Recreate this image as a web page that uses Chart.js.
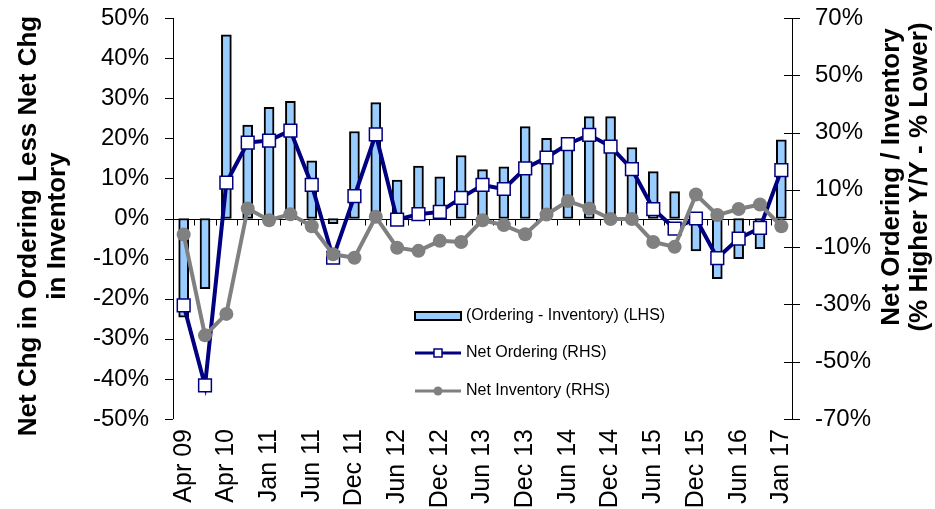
<!DOCTYPE html>
<html>
<head>
<meta charset="utf-8">
<script src="https://cdn.jsdelivr.net/npm/chart.js@4.4.1/dist/chart.umd.min.js"></script>
<style>
  html, body { margin: 0; padding: 0; background: #ffffff; overflow: hidden; }
  #wrap { position: relative; width: 935px; height: 509px; }
</style>
</head>
<body>
<div id="wrap"><canvas id="c" width="935" height="509"></canvas></div>
<script>
const categories = ['Apr 09','Oct 09','Apr 10','Aug 10','Jan 11','Mar 11','Jun 11','Sep 11','Dec 11','Mar 12','Jun 12','Sep 12','Dec 12','Mar 13','Jun 13','Sep 13','Dec 13','Mar 14','Jun 14','Sep 14','Dec 14','Mar 15','Jun 15','Sep 15','Dec 15','Mar 16','Jun 16','Sep 16','Jan 17'];
const diffLHS = [-24.6, -17.5, 45.8, 23.3, 27.7, 29.2, 14.4, -1.3, 21.7, 28.9, 9.6, 13.1, 10.4, 15.7, 12.2, 12.9, 22.9, 20.0, 19.9, 25.4, 25.4, 17.7, 11.7, 6.7, -8.1, -15.0, -10.0, -7.5, 19.6];
const netOrdering = [-30.3, -58.3, 12.5, 26.5, 27.2, 30.7, 11.7, -13.7, 7.8, 29.4, -0.4, 1.5, 2.3, 7.2, 11.7, 10.3, 17.5, 21.3, 26.0, 29.2, 25.1, 17.2, 3.3, -3.5, 0.0, -13.8, -7.0, -3.3, 16.9];
const netInventory = [-5.6, -40.8, -33.3, 3.5, -0.6, 1.5, -2.7, -12.5, -13.7, 0.6, -10.2, -11.3, -7.8, -8.2, -0.6, -2.3, -5.5, 1.4, 6.1, 3.5, -0.2, -0.2, -8.2, -9.9, 8.4, 1.2, 3.3, 4.9, -2.7];
const leftTicks = {min: -50, max: 50, step: 10};
const rightTicks = {min: -70, max: 70, step: 20};
const leftTitle = ['Net Chg in Ordering Less Net Chg', 'in Inventory'];
const rightTitle = ['Net Ordering / Inventory', '(% Higher Y/Y - % Lower)'];
const seriesLabels = ['(Ordering - Inventory) (LHS)', 'Net Ordering (RHS)', 'Net Inventory (RHS)'];

const FONT = '"Liberation Sans", Arial, sans-serif';

const axesPlugin = {
  id: 'axesPlugin',
  beforeDatasetsDraw(chart) {
    const {ctx, chartArea: a, scales} = chart;
    const y = scales.y, y1 = scales.y1, x = scales.x;
    ctx.save();
    ctx.strokeStyle = '#000';
    ctx.lineWidth = 1;
    ctx.beginPath();
    ctx.moveTo(Math.round(a.left) + 0.5, a.top);
    ctx.lineTo(Math.round(a.left) + 0.5, a.bottom);
    y.ticks.forEach(t => {
      const py = Math.round(y.getPixelForValue(t.value)) + 0.5;
      ctx.moveTo(a.left - 8, py);
      ctx.lineTo(a.left, py);
    });
    ctx.moveTo(Math.round(a.right) + 0.5, a.top);
    ctx.lineTo(Math.round(a.right) + 0.5, a.bottom);
    y1.ticks.forEach(t => {
      const py = Math.round(y1.getPixelForValue(t.value)) + 0.5;
      ctx.moveTo(a.right - 8, py);
      ctx.lineTo(a.right + 8, py);
    });
    const zy = Math.round(y.getPixelForValue(0)) + 0.5;
    ctx.moveTo(a.left, zy);
    ctx.lineTo(a.right, zy);
    const n = categories.length;
    for (let i = 0; i <= n; i++) {
      const px = Math.round(x.getPixelForValue(i - 0.5)) + 0.5;
      ctx.moveTo(px, zy);
      ctx.lineTo(px, zy + 6);
    }
    ctx.stroke();
    ctx.restore();
  },
  afterDraw(chart) {
    const {ctx} = chart;
    ctx.save();
    ctx.fillStyle = '#000';
    ctx.font = 'bold 26px ' + FONT;
    ctx.textAlign = 'center';
    ctx.textBaseline = 'middle';
    ctx.save();
    ctx.translate(29, 226);
    ctx.rotate(-Math.PI / 2);
    ctx.fillText(leftTitle[0], 0, 0);
    ctx.fillText(leftTitle[1], 0, 29);
    ctx.restore();
    ctx.save();
    ctx.translate(892, 177);
    ctx.rotate(-Math.PI / 2);
    ctx.fillText(rightTitle[0], 0, 0);
    ctx.fillText(rightTitle[1], 0, 28);
    ctx.restore();

    const ds = chart.data.datasets;
    const lx = 415, lw = 46, tx = 466;
    const rows = [316, 353, 391];
    ctx.font = '16px ' + FONT;
    ctx.textAlign = 'left';
    ctx.textBaseline = 'middle';
    ctx.fillStyle = ds[0].backgroundColor;
    ctx.fillRect(lx, rows[0] - 4, lw, 8);
    ctx.strokeStyle = ds[0].borderColor;
    ctx.lineWidth = 2;
    ctx.strokeRect(lx, rows[0] - 4, lw, 8);
    ctx.fillStyle = '#000';
    ctx.fillText(ds[0].label, tx, rows[0]);
    ctx.strokeStyle = ds[1].borderColor;
    ctx.lineWidth = 3;
    ctx.beginPath();
    ctx.moveTo(lx, rows[1]); ctx.lineTo(lx + lw, rows[1]);
    ctx.stroke();
    ctx.fillStyle = '#fff';
    ctx.fillRect(lx + lw / 2 - 4, rows[1] - 4, 8, 8);
    ctx.lineWidth = 1.5;
    ctx.strokeRect(lx + lw / 2 - 4, rows[1] - 4, 8, 8);
    ctx.fillStyle = '#000';
    ctx.fillText(ds[1].label, tx, rows[1]);
    ctx.strokeStyle = ds[2].borderColor;
    ctx.lineWidth = 3;
    ctx.beginPath();
    ctx.moveTo(lx, rows[2]); ctx.lineTo(lx + lw, rows[2]);
    ctx.stroke();
    ctx.fillStyle = ds[2].borderColor;
    ctx.beginPath();
    ctx.arc(lx + lw / 2, rows[2], 4.5, 0, Math.PI * 2);
    ctx.fill();
    ctx.fillStyle = '#000';
    ctx.fillText(ds[2].label, tx, rows[2]);
    ctx.restore();
  }
};

new Chart(document.getElementById('c'), {
  data: {
    labels: categories,
    datasets: [
      {
        type: 'bar', label: seriesLabels[0], data: diffLHS, yAxisID: 'y',
        backgroundColor: '#99CCFF', borderColor: '#000000', borderWidth: 2,
        barThickness: 10, order: 2, borderSkipped: false
      },
      {
        type: 'line', label: seriesLabels[1], data: netOrdering, yAxisID: 'y1',
        borderColor: '#000080', borderWidth: 4, pointStyle: 'rect', pointRadius: 9,
        pointBackgroundColor: '#ffffff', pointBorderColor: '#000080', pointBorderWidth: 1.5,
        tension: 0, order: 1
      },
      {
        type: 'line', label: seriesLabels[2], data: netInventory, yAxisID: 'y1',
        borderColor: '#808080', borderWidth: 4, pointStyle: 'circle', pointRadius: 7,
        pointBackgroundColor: '#808080', pointBorderColor: '#808080', pointBorderWidth: 0,
        tension: 0, order: 0
      }
    ]
  },
  options: {
    responsive: false,
    animation: false,
    layout: { padding: { top: 18, left: 0, right: 0, bottom: 0 } },
    plugins: { legend: { display: false }, tooltip: { enabled: false } },
    scales: {
      x: {
        type: 'category', offset: true,
        grid: { display: false, drawTicks: true, tickLength: 10 },
        border: { display: false },
        afterFit(s) { s.height = 90; },
        ticks: {
          autoSkip: false, maxRotation: 90, minRotation: 90, padding: 0,
          color: '#000', font: { family: FONT, size: 25 },
          callback(v, i) { return i % 2 === 0 ? categories[i] : ''; }
        }
      },
      y: {
        position: 'left', min: leftTicks.min, max: leftTicks.max,
        grid: { display: false, drawTicks: true, tickLength: 24 },
        border: { display: false },
        afterFit(s) { s.width = 173; },
        ticks: {
          stepSize: leftTicks.step, padding: 0, color: '#000',
          font: { family: FONT, size: 24 },
          callback(v) { return v + '%'; }
        }
      },
      y1: {
        position: 'right', min: rightTicks.min, max: rightTicks.max,
        grid: { display: false, drawTicks: true, tickLength: 23 },
        border: { display: false },
        afterFit(s) { s.width = 143; },
        ticks: {
          stepSize: rightTicks.step, padding: 0, color: '#000',
          font: { family: FONT, size: 24 },
          callback(v) { return v + '%'; }
        }
      }
    }
  },
  plugins: [axesPlugin]
});
</script>
</body>
</html>
